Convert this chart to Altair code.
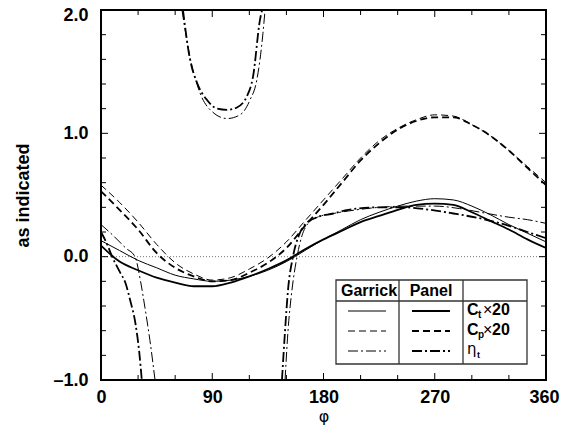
import altair as alt
import pandas as pd

# ---------------- data ----------------
phi = [0, 15, 30, 45, 60, 75, 90, 105, 120, 135, 150, 165, 180, 195, 210,
       225, 240, 255, 270, 285, 300, 315, 330, 345, 360]

ct_garrick = [0.13, 0.05, -0.03, -0.09, -0.15, -0.18, -0.20, -0.19, -0.16, -0.11,
              -0.04, 0.05, 0.14, 0.22, 0.30, 0.36, 0.41, 0.45, 0.47, 0.46, 0.41,
              0.34, 0.26, 0.19, 0.12]
ct_panel = [0.09, -0.04, -0.11, -0.17, -0.21, -0.24, -0.24, -0.21, -0.16, -0.10,
            -0.03, 0.06, 0.14, 0.21, 0.28, 0.33, 0.38, 0.42, 0.43, 0.42, 0.36,
            0.29, 0.22, 0.14, 0.07]
cp_garrick = [0.58, 0.44, 0.28, 0.10, -0.05, -0.14, -0.19, -0.17, -0.10, -0.01,
              0.12, 0.29, 0.46, 0.63, 0.80, 0.94, 1.04, 1.11, 1.15, 1.14, 1.07,
              0.98, 0.86, 0.73, 0.60]
cp_panel = [0.53, 0.38, 0.22, 0.03, -0.09, -0.16, -0.20, -0.19, -0.13, -0.05,
            0.07, 0.25, 0.42, 0.60, 0.78, 0.92, 1.03, 1.10, 1.13, 1.13, 1.07,
            0.98, 0.86, 0.72, 0.58]

# eta_t, in three branches each (poles between them)
eta_g_phi_a = [0, 10, 20, 27.5, 32, 35.5, 39.6, 43.7]
eta_g_a = [0.26, 0.17, 0.07, 0.0, -0.2, -0.41, -0.68, -1.0]
eta_g_phi_b = [65.5, 72, 77, 80, 90.6, 102, 112.5, 120.5, 126, 131, 132.7]
eta_g_b = [2.0, 1.62, 1.42, 1.33, 1.17, 1.12, 1.15, 1.27, 1.43, 1.81, 2.0]
eta_g_phi_c = [148.9, 151.3, 154.5, 158.6, 162.6, 167.5, 175, 188, 200, 225,
               250, 270, 290, 307, 330, 345, 360]
eta_g_c = [-1.0, -0.6, -0.27, 0.0, 0.17, 0.27, 0.32, 0.35, 0.37, 0.40,
           0.41, 0.41, 0.39, 0.36, 0.32, 0.30, 0.27]

eta_p_phi_a = [0, 5, 9, 15, 20, 23.5, 28, 31, 33]
eta_p_a = [0.20, 0.10, 0.0, -0.12, -0.22, -0.35, -0.55, -0.78, -1.0]
eta_p_phi_b = [66.3, 72, 77.7, 85.8, 93.9, 101.9, 110, 118, 123, 128.6, 130.3]
eta_p_b = [2.0, 1.6, 1.41, 1.27, 1.2, 1.19, 1.21, 1.3, 1.46, 1.92, 2.0]
eta_p_phi_c = [146.4, 148.9, 151.3, 155.3, 160, 165, 175, 188, 200, 225, 245,
               266, 285, 307, 330, 345, 360]
eta_p_c = [-1.0, -0.6, -0.27, 0.0, 0.17, 0.26, 0.32, 0.35, 0.38, 0.40, 0.40,
           0.38, 0.35, 0.31, 0.25, 0.20, 0.15]

x_major = [0, 90, 180, 270, 360]
x_minor = [30, 60, 120, 150, 210, 240, 300, 330]
y_major = [-1, 0, 1, 2]
y_minor = [-0.8, -0.6, -0.4, -0.2, 0.2, 0.4, 0.6, 0.8, 1.2, 1.4, 1.6, 1.8]

legend_headers = ["Garrick", "Panel"]
legend_base = ["C", "C", "η"]
legend_sub = ["t", "p", "t"]
legend_suffix = ["×20", "×20", ""]

# ---------------- chart ----------------
W, H = 445, 370
FONT = "Liberation Sans"
xs = alt.Scale(domain=[0, 360], nice=False, zero=False)
ys = alt.Scale(domain=[-1, 2], nice=False, zero=False)

x_axis = alt.Axis(values=x_major, title="φ", titleFont="DejaVu Sans", titleFontSize=16,
                  titleFontWeight="normal", titleBaseline="middle", titleY=36,
                  labelOffset={"condition": {"test": "datum.value == 360", "value": -2}, "value": 0},
                  labelFont=FONT, labelFontSize=18, labelFontWeight="bold",
                  labelPadding=8, tickSize=0, ticks=False, domain=False, grid=False,
                  labelColor="black", titleColor="black", labelFlush=False)
y_axis = alt.Axis(values=y_major, title="as indicated", titleFont=FONT, titleFontSize=18,
                  titleFontWeight="bold", titleBaseline="middle", titleX=-78, titleY=H / 2,
                  labelExpr="datum.value < 0 ? '\u2013' + format(-datum.value, '.1f') : format(datum.value, '.1f')",
                  labelOffset={"condition": {"test": "datum.value == 2", "value": 5}, "value": 0},
                  labelFont=FONT, labelFontSize=18, labelFontWeight="bold",
                  labelPadding=13, tickSize=0, ticks=False, domain=False, grid=False,
                  labelColor="black", titleColor="black", labelFlush=False)


def X(field):
    return alt.X(field, scale=xs, axis=x_axis)


def Y(field):
    return alt.Y(field, scale=ys, axis=y_axis)


def frame(phis, vals, seg=0):
    return pd.DataFrame({"phi": phis, "val": vals, "seg": [seg] * len(phis)})


def line(df, width, dash=None):
    kw = dict(clip=True, color="black", strokeWidth=width, interpolate="monotone")
    if dash:
        kw["strokeDash"] = dash
    return alt.Chart(df).mark_line(**kw).encode(
        x=X("phi:Q"), y=Y("val:Q"), detail="seg:N", order="phi:Q")


THIN, THICK = 1.0, 1.8
DASH = [7, 4]
DASHDOT = [10, 3, 2, 3]

eta_g = pd.concat([frame(eta_g_phi_a, eta_g_a, 0), frame(eta_g_phi_b, eta_g_b, 1),
                   frame(eta_g_phi_c, eta_g_c, 2)])
eta_p = pd.concat([frame(eta_p_phi_a, eta_p_a, 0), frame(eta_p_phi_b, eta_p_b, 1),
                   frame(eta_p_phi_c, eta_p_c, 2)])

zero_line = alt.Chart(pd.DataFrame({"phi": [0, 360], "val": [0, 0]})).mark_line(
    color="#777", strokeWidth=1, strokeDash=[1, 2]).encode(x=X("phi:Q"), y=Y("val:Q"))

layers = [
    zero_line,
    line(frame(phi, ct_garrick), THIN),
    line(frame(phi, ct_panel), THICK),
    line(frame(phi, cp_garrick), THIN, DASH),
    line(frame(phi, cp_panel), THICK, DASH),
    line(eta_g, THIN, DASHDOT),
    line(eta_p, THICK, DASHDOT),
]


# inward tick marks on all four sides
def xticks(vals, length):
    d = pd.DataFrame({"phi": vals})
    bot = alt.Chart(d).mark_rule(color="black", strokeWidth=1).encode(
        x=X("phi:Q"), y=alt.value(H), y2=alt.value(H - length))
    top = alt.Chart(d).mark_rule(color="black", strokeWidth=1).encode(
        x=X("phi:Q"), y=alt.value(0), y2=alt.value(length))
    return [bot, top]


def yticks(vals, length):
    d = pd.DataFrame({"val": vals})
    left = alt.Chart(d).mark_rule(color="black", strokeWidth=1).encode(
        y=Y("val:Q"), x=alt.value(0), x2=alt.value(length))
    right = alt.Chart(d).mark_rule(color="black", strokeWidth=1).encode(
        y=Y("val:Q"), x=alt.value(W), x2=alt.value(W - length))
    return [left, right]


layers += xticks(x_major, 7) + xticks(x_minor, 5) + yticks(y_major, 7) + yticks(y_minor, 5)

# ---------------- legend table ----------------
one = pd.DataFrame({"k": [0]})
LX0, LX1, LY0, LY1 = 235, 426, 270, 354
C1, C2 = 298, 362
box = alt.Chart(one).mark_rect(fill="white", stroke="#333", strokeWidth=1.3).encode(
    x=alt.value(LX0), x2=alt.value(LX1), y=alt.value(LY0), y2=alt.value(LY1))
layers.append(box)


def seg(x0, x1, y0, y1, width=1.3, color="#333", dash=None):
    kw = dict(color=color, strokeWidth=width)
    if dash:
        kw["strokeDash"] = dash
    return alt.Chart(one).mark_rule(**kw).encode(
        x=alt.value(x0), x2=alt.value(x1), y=alt.value(y0), y2=alt.value(y1))


layers += [seg(LX0, LX1, 291, 291), seg(C1, C1, LY0, LY1), seg(C2, C2, LY0, LY1)]


def txt(s, x, y, size=16, weight="bold", align="left", font=FONT):
    return alt.Chart(one).mark_text(text=s, font=font, fontSize=size, fontWeight=weight,
                                    align=align, baseline="alphabetic", color="black").encode(
        x=alt.value(x), y=alt.value(y))


layers += [txt(legend_headers[0], 268, 286, align="center"),
           txt(legend_headers[1], 330, 286, align="center")]

styles = [None, DASH, DASHDOT]
for i in range(3):
    yy = 301 + 20 * i
    layers.append(seg(247, 285, yy, yy, THIN, "black", styles[i]))
    layers.append(seg(311, 349, yy, yy, THICK, "black", styles[i]))
    base_y = 305 + 20 * i
    if legend_base[i] == "η":
        layers.append(txt(legend_base[i], 366, base_y - 1, size=15, weight="normal",
                          font="DejaVu Sans"))
        layers.append(txt(legend_sub[i], 376, base_y + 3, size=9))
    else:
        layers.append(txt(legend_base[i], 366, base_y))
        layers.append(txt(legend_sub[i], 377, base_y + 3, size=10))
        layers.append(txt(legend_suffix[i][0], 382, base_y, weight="normal"))
        layers.append(txt(legend_suffix[i][1:], 391, base_y))

chart = alt.layer(*layers).properties(
    width=W, height=H,
    background="white",
    autosize=alt.AutoSizeParams(type="none"),
    padding={"left": 93, "top": 2, "right": 14, "bottom": 47},
).configure_view(stroke="black", strokeWidth=2)

chart.save("out.html", embed_options={"renderer": "svg", "actions": False})
